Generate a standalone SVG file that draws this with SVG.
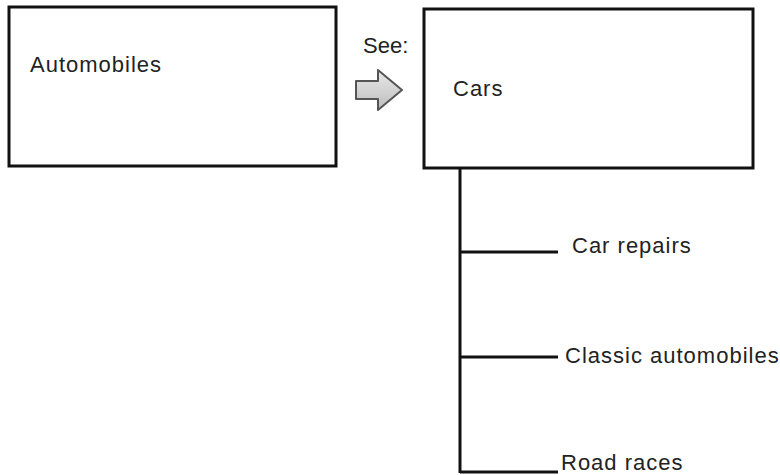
<svg xmlns="http://www.w3.org/2000/svg" width="780" height="475" viewBox="0 0 780 475">
<style>
.box{fill:#fff;stroke:#111;stroke-width:3}
.t{font-family:"Liberation Sans",Arial,sans-serif;font-size:22px;letter-spacing:1px;fill:#222}
.ln{stroke:#111;stroke-width:3;fill:none}
</style>
<defs>
<linearGradient id="ag" x1="0" y1="0" x2="0" y2="1">
<stop offset="0" stop-color="#e8e8e8"/><stop offset="1" stop-color="#bdbdbd"/>
</linearGradient>
</defs>
<rect width="780" height="475" fill="#fff"/>
<g id="automobiles">
<rect class="box" x="9" y="7" width="327" height="159"/>
<text class="t" x="30" y="72">Automobiles</text>
</g>
<g id="cars">
<rect class="box" x="424" y="9" width="329" height="159"/>
<text class="t" x="453" y="96">Cars</text>
</g>
<g id="see">
<text class="t" x="363" y="53" style="letter-spacing:0">See:</text>
<polygon points="356,81 378,81 378,70 402,90 378,110 378,99 356,99" fill="url(#ag)" stroke="#555" stroke-width="2" stroke-linejoin="round"/>
</g>
<g id="connectors">
<path class="ln" d="M460,168 V473 M460,252 H558 M460,357 H558 M460,472 H558"/>
</g>
<g id="car-repairs"><text class="t" x="572" y="253">Car repairs</text></g>
<g id="classic-automobiles"><text class="t" x="565" y="363">Classic automobiles</text></g>
<g id="road-races"><text class="t" x="561" y="470">Road races</text></g>
</svg>
